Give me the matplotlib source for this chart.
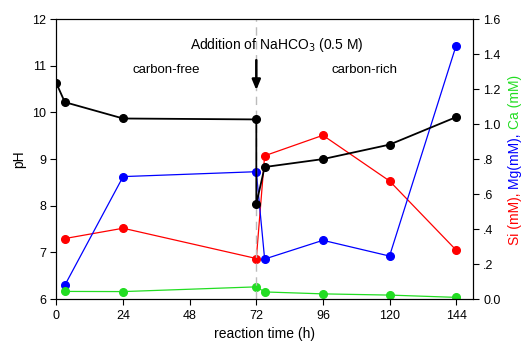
import numpy as np
import matplotlib
matplotlib.use("Agg")
import matplotlib.pyplot as plt

plt.rcParams['font.family'] = ['Liberation Sans', 'DejaVu Sans']

# reaction time (h)
time = [0, 3, 24, 72, 72, 75, 96, 120, 144]
ph = [10.62, 10.22, 9.87, 9.85, 8.04, 8.83, 9.0, 9.31, 9.9]

t_ion = [3, 24, 72, 75, 96, 120, 144]
si = [0.346, 0.405, 0.232, 0.819, 0.936, 0.675, 0.28]
mg = [0.079, 0.70, 0.728, 0.229, 0.336, 0.246, 1.449]
ca = [0.044, 0.043, 0.070, 0.041, 0.030, 0.023, 0.010]

xticks = [0, 24, 48, 72, 96, 120, 144]
right_ticks = [0, 0.2, 0.4, 0.6, 0.8, 1.0, 1.2, 1.4, 1.6]
right_labels = ['0.0', '.2', '.4', '.6', '.8', '1.0', '1.2', '1.4', '1.6']

fig = plt.figure(figsize=(5.23, 3.47), dpi=100)
ax = fig.add_axes([0.108, 0.138, 0.796, 0.807])
ax2 = ax.twinx()

ax.axvline(72, color='#bbbbbb', lw=1, ls=(0, (6, 4)), zorder=0)

ax2.plot(t_ion, si, color='red', lw=0.9, marker='o', ms=5.5)
ax2.plot(t_ion, mg, color='blue', lw=0.9, marker='o', ms=5.5)
ax2.plot(t_ion, ca, color='#22dd22', lw=0.9, marker='o', ms=5.5)
ax2.set_ylim(0, 1.6)
ax2.set_yticks(right_ticks)
ax2.set_yticklabels(right_labels)

ax.plot(time, ph, color='black', lw=1.3, marker='o', ms=5.5, zorder=5)
ax.set_zorder(ax2.get_zorder() + 1)
ax.patch.set_visible(False)

ax.set_xlim(0, 150)
ax.set_ylim(6, 12)
ax.set_xticks(xticks)
ax.set_yticks(range(6, 13))
ax.set_xlabel('reaction time (h)', fontsize=10)
ax.set_ylabel('pH', fontsize=10)

for a in (ax, ax2):
    a.tick_params(labelsize=9, length=4, width=0.8)

ax.text(79.5, 11.44, 'Addition of NaHCO$_3$ (0.5 M)', ha='center', va='center', fontsize=10)
ax.annotate('', xy=(72, 10.42), xytext=(72, 11.18),
            arrowprops=dict(arrowstyle='-|>,head_width=0.25,head_length=0.6', color='black', lw=1.8))
ax.text(39.6, 10.9, 'carbon-free', ha='center', va='center', fontsize=9.5)
ax.text(111, 10.9, 'carbon-rich', ha='center', va='center', fontsize=9.5)

# multicoloured right axis label, stacked bottom to top
fig.canvas.draw()
renderer = fig.canvas.get_renderer()
parts = [('Si (mM), ', 'red'), ('Mg(mM), ', 'blue'), ('Ca (mM)', '#22dd22')]
ypix = 347 - 245
for txt, col in parts:
    t = fig.text(515 / 523, ypix / 347, txt, color=col, rotation=90,
                 ha='center', va='bottom', fontsize=10)
    bb = t.get_window_extent(renderer)
    ypix += bb.height

fig.savefig('out.png', dpi=100)
